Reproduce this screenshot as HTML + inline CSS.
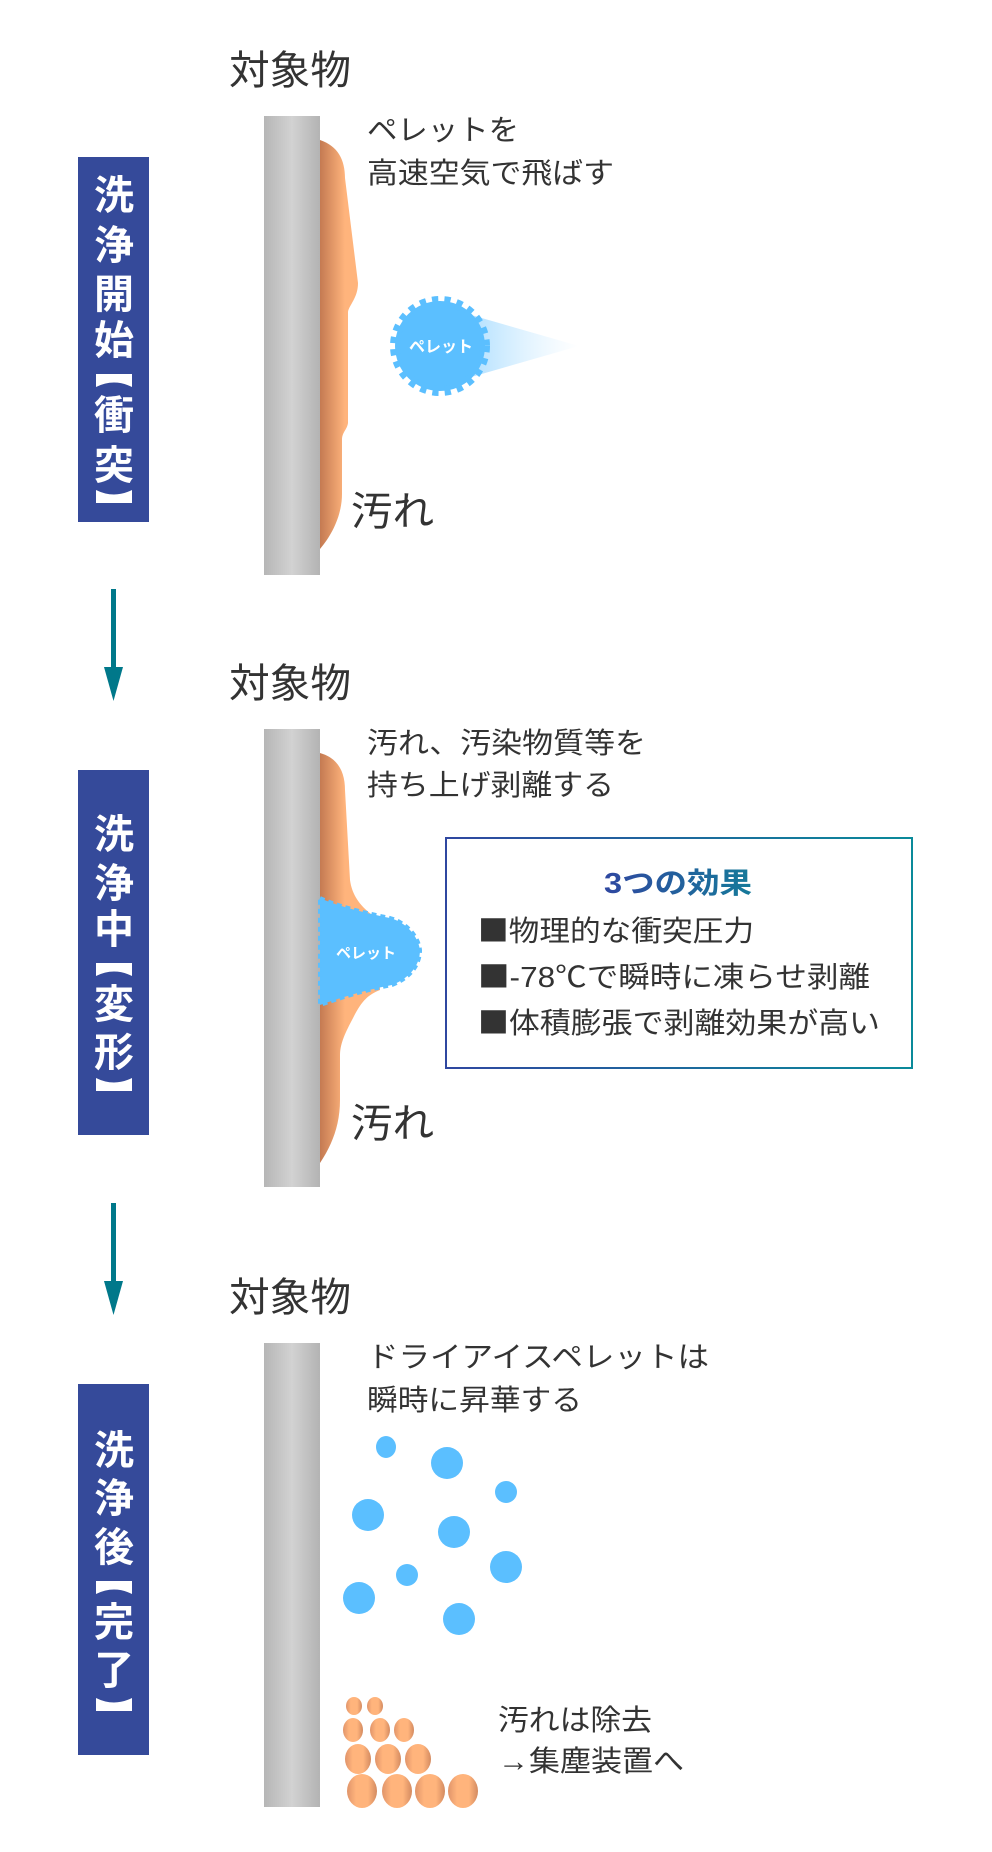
<!DOCTYPE html>
<html><head><meta charset="utf-8"><style>
html,body{margin:0;padding:0;background:#fff;}
svg{display:block;}
text{font-family:"Liberation Sans","Noto Sans CJK JP",sans-serif;}
.sq{font-family:"Noto Sans CJK JP",sans-serif;}
</style></head><body>
<svg width="992" height="1852" viewBox="0 0 992 1852" xmlns="http://www.w3.org/2000/svg">
<defs>
<linearGradient id="bar" x1="0" x2="1" y1="0" y2="0">
<stop offset="0" stop-color="#b6b6b6"/><stop offset="0.5" stop-color="#d2d2d2"/><stop offset="1" stop-color="#b3b3b3"/>
</linearGradient>
<linearGradient id="stain" gradientUnits="userSpaceOnUse" x1="320" x2="345" y1="0" y2="0">
<stop offset="0" stop-color="#c47a52"/><stop offset="1" stop-color="#ffb47c"/>
</linearGradient>
<linearGradient id="cone" x1="0" x2="1" y1="0" y2="0">
<stop offset="0" stop-color="#8fd2ff"/><stop offset="1" stop-color="#c8e9ff" stop-opacity="0"/>
</linearGradient>
<linearGradient id="dirt" x1="0" x2="1" y1="0" y2="0">
<stop offset="0" stop-color="#e0946a"/><stop offset="0.3" stop-color="#ffb47c"/><stop offset="0.7" stop-color="#ffb47c"/><stop offset="1" stop-color="#d38a60"/>
</linearGradient>
<linearGradient id="boxb" x1="0" x2="1" y1="0" y2="0">
<stop offset="0" stop-color="#2f47a0"/><stop offset="1" stop-color="#0a8a9a"/>
</linearGradient>
<linearGradient id="ttl" x1="0" x2="1" y1="0" y2="0">
<stop offset="0" stop-color="#2f47a0"/><stop offset="1" stop-color="#167a9a"/>
</linearGradient>
</defs>

<!-- ===== Frame 1 ===== -->
<rect x="78" y="157" width="71" height="365" fill="#354a9a"/>
<g fill="#fff" font-size="40" font-weight="bold" text-anchor="middle">
<text x="114" y="209">洗</text><text x="114" y="259">浄</text><text x="114" y="308">開</text><text x="114" y="354">始</text>
<text x="114" y="429">衝</text><text x="114" y="479">突</text>
</g>
<path d="M96,374 H132 V387 Q114,378 96,387 Z" fill="#fff"/>
<path d="M96,503 H132 V490 Q114,499 96,490 Z" fill="#fff"/>

<text x="229" y="84" font-size="40" fill="#333" textLength="122" lengthAdjust="spacingAndGlyphs">対象物</text>
<rect x="264" y="116" width="56" height="459" fill="url(#bar)"/>
<path d="M320,140 C338,146 345,160 345,178 L358,283 C358,298 349,305 348,312 L348,423 C347,430 342,432 342,440 L342,494 C342,515 332,535 320,549 Z" fill="url(#stain)"/>
<text x="367" y="140" font-size="29" fill="#333" textLength="152" lengthAdjust="spacingAndGlyphs">ペレットを</text>
<text x="367" y="183" font-size="29" fill="#333" textLength="247" lengthAdjust="spacingAndGlyphs">高速空気で飛ばす</text>
<polygon points="440,306 579,346 440,386" fill="url(#cone)"/>
<circle cx="440" cy="346" r="45" fill="#5bbfff" stroke="#5bbfff" stroke-width="10" stroke-dasharray="6 6"/>
<text x="441" y="352" font-size="16" font-weight="bold" fill="#fff" text-anchor="middle">ペレット</text>
<text x="351" y="525" font-size="40" fill="#333" textLength="83" lengthAdjust="spacingAndGlyphs">汚れ</text>

<!-- arrow 1 -->
<rect x="111" y="589" width="5" height="84" fill="#00788a"/>
<polygon points="104,667 123,667 113.5,701" fill="#00788a"/>

<!-- ===== Frame 2 ===== -->
<rect x="78" y="770" width="71" height="365" fill="#354a9a"/>
<g fill="#fff" font-size="40" font-weight="bold" text-anchor="middle">
<text x="114" y="848">洗</text><text x="114" y="897">浄</text><text x="114" y="943">中</text>
<text x="114" y="1018">変</text><text x="114" y="1066">形</text>
</g>
<path d="M96,963 H132 V976 Q114,967 96,976 Z" fill="#fff"/>
<path d="M96,1091 H132 V1078 Q114,1087 96,1078 Z" fill="#fff"/>

<text x="229" y="697" font-size="40" fill="#333" textLength="122" lengthAdjust="spacingAndGlyphs">対象物</text>
<rect x="264" y="729" width="56" height="458" fill="url(#bar)"/>
<path d="M320,753 C338,758 345,772 345,790 L350,880 C352,895 360,908 380,920 L380,990 C368,995 362,1000 352,1020 C344,1035 340,1045 340,1055 L340,1100 C340,1125 332,1145 320,1163 Z" fill="url(#stain)"/>
<path d="M320,898 C335,905 360,912 390,918 C405,922 418,935 420,950 C420,965 410,978 392,985 C365,990 340,998 320,1005 Z" fill="#5bbfff" stroke="#5bbfff" stroke-width="4" stroke-dasharray="5 4"/>
<text x="366" y="958" font-size="15" font-weight="bold" fill="#fff" text-anchor="middle">ペレット</text>
<text x="367" y="753" font-size="29" fill="#333" textLength="279" lengthAdjust="spacingAndGlyphs">汚れ、汚染物質等を</text>
<text x="367" y="795" font-size="29" fill="#333" textLength="247" lengthAdjust="spacingAndGlyphs">持ち上げ剥離する</text>
<text x="351" y="1137" font-size="40" fill="#333" textLength="83" lengthAdjust="spacingAndGlyphs">汚れ</text>

<rect x="446" y="838" width="466" height="230" fill="#fff" stroke="url(#boxb)" stroke-width="2"/>
<text x="678" y="893" font-size="29" font-weight="bold" fill="url(#ttl)" text-anchor="middle" textLength="148" lengthAdjust="spacingAndGlyphs">3つの効果</text>
<text x="478" y="941" font-size="29" fill="#333" textLength="276" lengthAdjust="spacingAndGlyphs"><tspan class="sq">■</tspan>物理的な衝突圧力</text>
<text x="478" y="987" font-size="29" fill="#333" textLength="392" lengthAdjust="spacingAndGlyphs"><tspan class="sq">■</tspan>-78℃で瞬時に凍らせ剥離</text>
<text x="478" y="1033" font-size="29" fill="#333" textLength="402" lengthAdjust="spacingAndGlyphs"><tspan class="sq">■</tspan>体積膨張で剥離効果が高い</text>

<!-- arrow 2 -->
<rect x="111" y="1203" width="5" height="84" fill="#00788a"/>
<polygon points="104,1281 123,1281 113.5,1315" fill="#00788a"/>

<!-- ===== Frame 3 ===== -->
<rect x="78" y="1384" width="71" height="371" fill="#354a9a"/>
<g fill="#fff" font-size="40" font-weight="bold" text-anchor="middle">
<text x="114" y="1464">洗</text><text x="114" y="1512">浄</text><text x="114" y="1561">後</text>
<text x="114" y="1636">完</text><text x="114" y="1684">了</text>
</g>
<path d="M96,1581 H132 V1594 Q114,1585 96,1594 Z" fill="#fff"/>
<path d="M96,1711 H132 V1698 Q114,1707 96,1698 Z" fill="#fff"/>

<text x="229" y="1311" font-size="40" fill="#333" textLength="122" lengthAdjust="spacingAndGlyphs">対象物</text>
<rect x="264" y="1343" width="56" height="464" fill="url(#bar)"/>
<text x="367" y="1367" font-size="29" fill="#333" textLength="342" lengthAdjust="spacingAndGlyphs">ドライアイスペレットは</text>
<text x="367" y="1410" font-size="29" fill="#333" textLength="215" lengthAdjust="spacingAndGlyphs">瞬時に昇華する</text>
<g fill="#5bbfff">
<ellipse cx="386" cy="1447" rx="10" ry="11"/>
<ellipse cx="447" cy="1463" rx="16" ry="16"/>
<ellipse cx="506" cy="1492" rx="11" ry="11"/>
<ellipse cx="368" cy="1515" rx="16" ry="16"/>
<ellipse cx="454" cy="1532" rx="16" ry="16"/>
<ellipse cx="407" cy="1575" rx="11" ry="11"/>
<ellipse cx="506" cy="1567" rx="16" ry="16"/>
<ellipse cx="359" cy="1598" rx="16" ry="16"/>
<ellipse cx="459" cy="1619" rx="16" ry="16"/>
</g>
<g fill="url(#dirt)">
<ellipse cx="354" cy="1706" rx="8" ry="9"/><ellipse cx="375" cy="1706" rx="8" ry="9"/>
<ellipse cx="353" cy="1730" rx="10" ry="12"/><ellipse cx="380" cy="1730" rx="10" ry="12"/><ellipse cx="404" cy="1730" rx="10" ry="12"/>
<ellipse cx="358" cy="1759" rx="13" ry="15"/><ellipse cx="388" cy="1759" rx="13" ry="15"/><ellipse cx="418" cy="1759" rx="13" ry="15"/>
<ellipse cx="362" cy="1791" rx="15" ry="17"/><ellipse cx="397" cy="1791" rx="15" ry="17"/><ellipse cx="430" cy="1791" rx="15" ry="17"/><ellipse cx="463" cy="1791" rx="15" ry="17"/>
</g>
<text x="498" y="1730" font-size="29" fill="#333" textLength="154" lengthAdjust="spacingAndGlyphs">汚れは除去</text>
<text x="498" y="1771" font-size="29" fill="#333" textLength="186" lengthAdjust="spacingAndGlyphs">→集塵装置へ</text>
</svg>
</body></html>
